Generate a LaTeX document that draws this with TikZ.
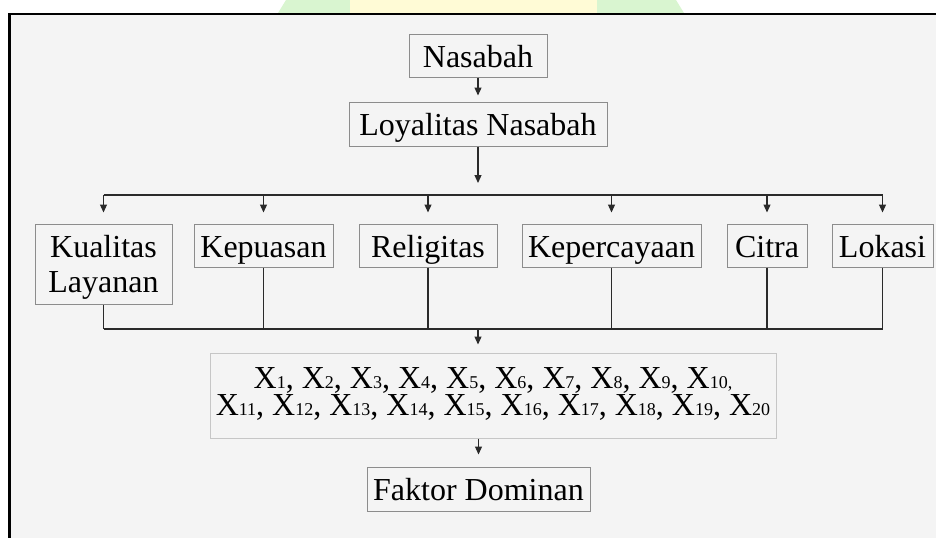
\documentclass[tikz,border=0pt]{standalone}
\usepackage{fontspec}
\setmainfont{Liberation Serif}
\usetikzlibrary{arrows.meta,calc,positioning}

\definecolor{bgcol}{HTML}{F4F4F4}
\definecolor{boxline}{HTML}{8C8C8C}
\definecolor{xline}{HTML}{C6C6C6}
\definecolor{conn}{HTML}{2A2A2A}
\definecolor{wmgreen}{HTML}{D9F5D0}
\definecolor{wmyellow}{HTML}{FFFBD6}

\newcommand{\xv}[1]{X{\fontsize{18}{18}\selectfont #1}}

\begin{document}
\begin{tikzpicture}[x=1pt,y=-1pt,
    box/.style={draw=boxline,line width=1pt,inner sep=0pt,align=center,
        font=\fontsize{32}{35}\selectfont,text height=23pt,text depth=0pt,
        minimum height=43pt},
    line/.style={draw=conn,line width=1.2pt},
    arr/.style={line,-{Triangle[width=7pt,length=8pt]}}]
    \useasboundingbox (0,0) rectangle (936,538);
    % Frame and watermark
    \fill[wmgreen] (278,13) -- (286,0) -- (350,0) -- (350,13) -- cycle;
    \fill[wmyellow] (350,13) rectangle (597,0);
    \fill[wmgreen] (597,13) -- (597,0) -- (676,0) -- (684,13) -- cycle;
    \fill[bgcol] (10,14) rectangle (936,538);
    \draw[line width=2.5pt] (8,14) -- (936,14);
    \draw[line width=2.5pt] (9.5,13) -- (9.5,538);

    % Top of the tree
    \node[box,minimum width=138pt] (nas) at (478,55.5) {Nasabah};
    \node[box,minimum width=258pt,minimum height=44pt] (loyal) at (478,124) {Loyalitas Nasabah};

    % Variables
    \node[box,minimum width=137pt,minimum height=80pt,text height=56pt,text depth=-6pt] (kual) at (103.5,264) {Kualitas\\Layanan};
    \node[box,minimum width=139pt] (kep) at (263.5,245.5) {Kepuasan};
    \node[box,minimum width=138pt] (rel) at (428,245.5) {Religitas};
    \node[box,minimum width=179pt] (perc) at (611.5,245.5) {Kepercayaan};
    \node[box,minimum width=80pt] (cit) at (767,245.5) {Citra};
    \node[box,minimum width=101pt] (lok) at (882.5,245.5) {Lokasi};

    % Indicators and result
    \node[box,draw=xline,minimum width=566pt,minimum height=85pt,
        font=\fontsize{32}{27}\selectfont,text height=47pt,text depth=6.6pt] (xs) at (493,395.5)
        {\xv{1}, \xv{2}, \xv{3}, \xv{4}, \xv{5}, \xv{6}, \xv{7}, \xv{8}, \xv{9}, \xv{10,}\\
         \xv{11}, \xv{12}, \xv{13}, \xv{14}, \xv{15}, \xv{16}, \xv{17}, \xv{18}, \xv{19}, \xv{20}};
    \node[box,minimum width=223pt,minimum height=44pt] (fak) at (478.5,489) {Faktor Dominan};

    % Connectors
    \coordinate (topbar) at (478,195);
    \coordinate (botbar) at (478,329);
    \draw[arr,shorten >=6pt] (nas) -- (loyal);
    \draw[arr] (loyal) -- ($(topbar)+(0,-12)$);
    \draw[line] (kual |- topbar) -- (lok |- topbar);
    \foreach \n in {kual,kep,rel,perc,cit,lok}
        \draw[arr,shorten >=11pt] (\n |- topbar) -- (\n);
    \foreach \n in {kual,kep,rel,perc,cit,lok}
        \draw[line] (\n) -- (\n |- botbar);
    \draw[line] (kual |- botbar) -- (lok |- botbar);
    \draw[arr,shorten >=8pt] (botbar) -- (botbar |- xs.north);
    \draw[arr,shorten >=12pt] (fak |- xs.south) -- (fak);
\end{tikzpicture}
\end{document}
